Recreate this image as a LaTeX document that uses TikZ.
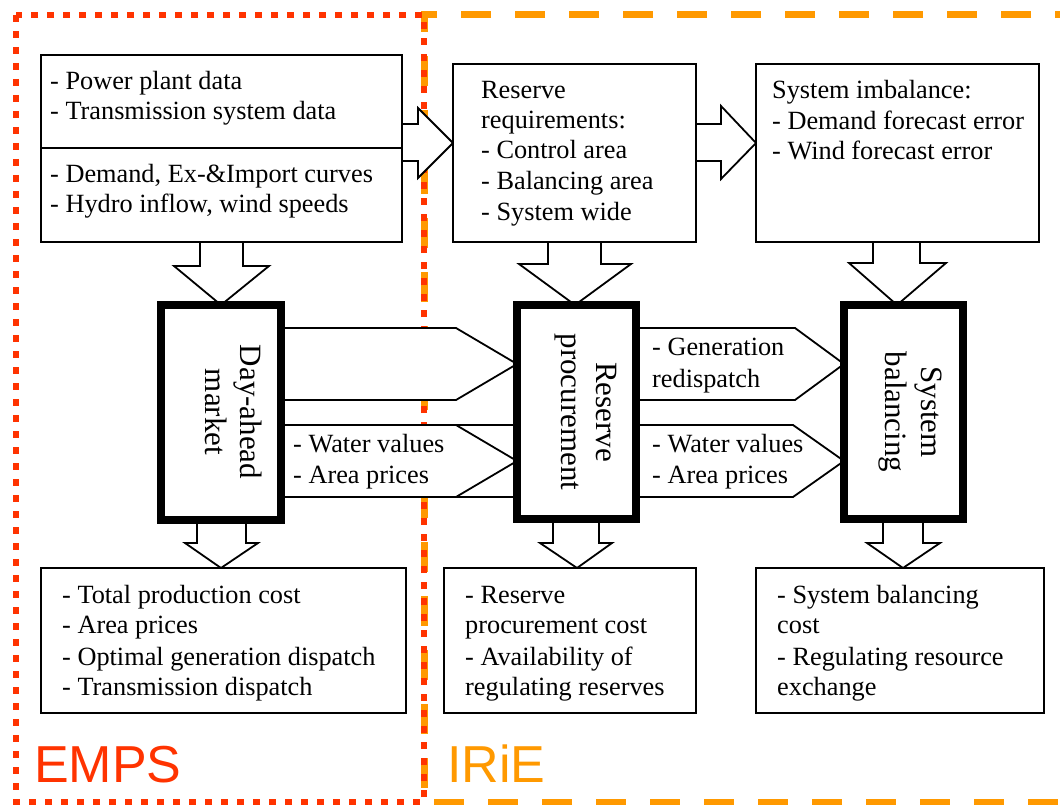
\documentclass[tikz,border=0pt]{standalone}
\usepackage{fontspec}
\setmainfont{Liberation Serif}
\newfontfamily\labelsans{Liberation Sans}
\usetikzlibrary{calc}
\definecolor{empsred}{HTML}{FF3300}
\definecolor{irieorange}{HTML}{FF9900}
\pgfdeclarelayer{bg}
\pgfdeclarelayer{mid}
\pgfsetlayers{bg,mid,main}
\begin{document}
\begin{tikzpicture}[x=1pt,y=-1pt,
  thinbox/.style={draw, line width=1.8pt, fill=white, inner sep=0pt, outer sep=0pt},
  thickbox/.style={draw, line width=8pt, fill=white, inner sep=0pt, outer sep=0pt},
  blk/.style={draw, line width=1.8pt, fill=white, line join=miter},
  txt/.style={anchor=base west, inner sep=0pt, font=\fontsize{26.3}{30}\selectfont},
  vtxt/.style={anchor=base, inner sep=0pt, rotate=-90, font=\fontsize{31}{35}\selectfont},
  biglabel/.style={anchor=base west, inner sep=0pt, font=\labelsans\fontsize{52}{60}\selectfont}]
\useasboundingbox (0,0) rectangle (1060,805);

% ---------- boxes ----------
\node[thinbox, minimum width=361pt, minimum height=187pt] (A) at (221.5,148.5) {};
\node[thinbox, minimum width=243pt, minimum height=178pt] (B) at (574.5,153) {};
\node[thinbox, minimum width=283pt, minimum height=178pt] (C) at (897.5,153) {};
\node[thickbox, minimum width=120pt, minimum height=215pt] (DA) at (221,412.5) {};
\node[thickbox, minimum width=119pt, minimum height=214pt] (RP) at (576.5,412) {};
\node[thickbox, minimum width=119pt, minimum height=214pt] (SB) at (903.5,412) {};
\node[thinbox, minimum width=365pt, minimum height=145pt] (A2) at (223.5,640.5) {};
\node[thinbox, minimum width=252pt, minimum height=145pt] (B2) at (570,640.5) {};
\node[thinbox, minimum width=288pt, minimum height=145pt] (C2) at (900,640.5) {};
\draw[line width=1.8pt] (A.west |- 0,148) -- (A.east |- 0,148);

% ---------- frames ----------
\begin{pgfonlayer}{bg}
\draw[irieorange, line width=7pt, dash pattern=on 30pt off 24pt] (1085,15) -- (424,15) -- (424,802) -- (1085,802);
\draw[empsred, line width=6.5pt, dash pattern=on 7pt off 9pt] (16,15) rectangle (424,802);
\end{pgfonlayer}

% ---------- block arrows ----------
\begin{pgfonlayer}{mid}
% top row, horizontal
\draw[blk] (A.east |- 0,124) -- (418,124) -- (418,108) -- (B.west |- 0,143) -- (418,178) -- (418,161) -- (A.east |- 0,161);
\draw[blk] (B.east |- 0,124) -- (721,124) -- (721,106) -- (C.west |- 0,143) -- (721,179) -- (721,161) -- (B.east |- 0,161);
% top row, downwards
\draw[blk] (200,0 |- A.south) -- (200,266) -- (174,266) -- (221,0 |- DA.north) -- (269,266) -- (243,266) -- (243,0 |- A.south);
\draw[blk] (548,0 |- B.south) -- (548,264) -- (519,264) -- (575,0 |- RP.north) -- (631,264) -- (601,264) -- (601,0 |- B.south);
\draw[blk] (873,0 |- C.south) -- (873,263) -- (849,263) -- (897,0 |- SB.north) -- (946,263) -- (920,263) -- (920,0 |- C.south);
% middle row
\draw[blk] (DA.east |- 0,328) -- (456,328) -- (RP.west |- 0,364) -- (456,400) -- (DA.east |- 0,400);
\draw[blk] (DA.east |- 0,425) rectangle (RP.west |- 0,497);
\draw[blk] (456,425) -- (RP.west |- 0,461) -- (456,497);
\draw[blk] (RP.east |- 0,328) -- (795,328) -- (SB.west |- 0,364) -- (795,400) -- (RP.east |- 0,400);
\draw[blk] (RP.east |- 0,425) -- (793,425) -- (SB.west |- 0,461) -- (793,497) -- (RP.east |- 0,497);
% bottom row, downwards
\draw[blk] (197,0 |- DA.south) -- (197,543) -- (185,543) -- (221,0 |- A2.north) -- (258,543) -- (246,543) -- (246,0 |- DA.south);
\draw[blk] (553,0 |- RP.south) -- (553,543) -- (540,543) -- (577,0 |- B2.north) -- (612,543) -- (599,543) -- (599,0 |- RP.south);
\draw[blk] (883,0 |- SB.south) -- (883,543) -- (867,543) -- (903,0 |- C2.north) -- (940,543) -- (923,543) -- (923,0 |- SB.south);
\end{pgfonlayer}

% ---------- texts ----------
\node[txt] (ta1) at (50,90) {- Power plant data};
\node[txt] (ta2) at (50,120) {- Transmission system data};
\node[txt] (ta3) at (50,183) {- Demand, Ex-\&Import curves};
\node[txt] (ta4) at (50,213) {- Hydro inflow, wind speeds};

\node[txt] (tb1) at (481,99) {Reserve};
\node[txt] (tb2) at (481,129) {requirements:};
\node[txt] (tb3) at (481,159) {- Control area};
\node[txt] (tb4) at (481,190) {- Balancing area};
\node[txt] (tb5) at (481,221) {- System wide};

\node[txt] (tc1) at (772,99) {System imbalance:};
\node[txt] (tc2) at (772,130) {- Demand forecast error};
\node[txt] (tc3) at (772,160) {- Wind forecast error};

\node[vtxt] (tda1) at (240,412) {Day-ahead};
\node[vtxt] (tda2) at (205,412) {market};
\node[vtxt] (trp1) at (596,412) {Reserve};
\node[vtxt] (trp2) at (561,412) {procurement};
\node[vtxt] (tsb1) at (921,412) {System};
\node[vtxt] (tsb2) at (885,412) {balancing};

\node[txt] (tw1) at (293,452) {- Water values};
\node[txt] (tw2) at (293,483) {- Area prices};
\node[txt] (tg1) at (652,355) {- Generation};
\node[txt] (tg2) at (652,387) {redispatch};
\node[txt] (tw3) at (652,452) {- Water values};
\node[txt] (tw4) at (652,483) {- Area prices};

\node[txt] (td1) at (62,603) {- Total production cost};
\node[txt] (td2) at (62,633) {- Area prices};
\node[txt] (td3) at (62,665) {- Optimal generation dispatch};
\node[txt] (td4) at (62,695) {- Transmission dispatch};

\node[txt] (te1) at (465,603) {- Reserve};
\node[txt] (te2) at (465,633) {procurement cost};
\node[txt] (te3) at (465,665) {- Availability of};
\node[txt] (te4) at (465,695) {regulating reserves};

\node[txt] (tf1) at (777,603) {- System balancing};
\node[txt] (tf2) at (777,633) {cost};
\node[txt] (tf3) at (777,665) {- Regulating resource};
\node[txt] (tf4) at (777,695) {exchange};

\node[biglabel, text=empsred] (emps) at (34,782) {EMPS};
\node[biglabel, text=irieorange] (irie) at (447,782) {IRiE};
\end{tikzpicture}
\end{document}
